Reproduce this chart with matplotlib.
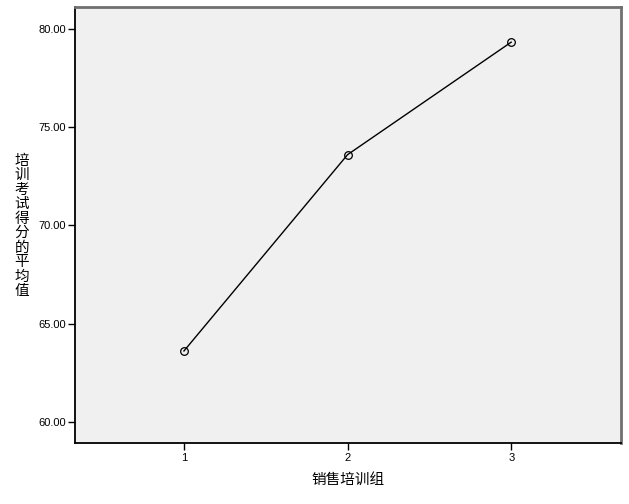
import matplotlib.pyplot as plt

plt.rcParams['font.family'] = ['Liberation Sans', 'DejaVu Sans']

# Means plot data
groups = [1, 2, 3]
means = [63.61, 73.59, 79.31]
yticks = [60, 65, 70, 75, 80]
ylabel = "培训考试得分的平均值"
xlabel = "销售培训组"

fig = plt.figure(figsize=(6.29, 5.04), dpi=100)
ax = fig.add_axes([0.120, 0.121, 0.867, 0.866])
ax.set_facecolor('#f0f0f0')

ax.plot(groups, means, color='black', linewidth=1.0, marker='o', markersize=5.5,
        markerfacecolor='none', markeredgecolor='black', markeredgewidth=0.9)

ax.set_xlim(0.337, 3.67)
ax.set_ylim(58.93, 81.12)
ax.set_xticks(groups)
ax.set_xticklabels([str(g) for g in groups])
ax.set_yticks(yticks)
ax.set_yticklabels(["%.2f" % v for v in yticks])
ax.tick_params(direction='out', length=5, width=1, labelsize=8, color='black', pad=2)

for s in ['left', 'bottom']:
    ax.spines[s].set_color('black')
    ax.spines[s].set_linewidth(1.3)
for s in ['top', 'right']:
    ax.spines[s].set_color('#707070')
    ax.spines[s].set_linewidth(2.0)

cjk = ['Noto Sans CJK SC', 'DejaVu Sans']
fig.text(22 / 629, 1 - 226 / 504, "\n".join(ylabel), family=cjk, fontsize=10.5,
         ha='center', va='center', linespacing=1.05)
fig.text(348 / 629, 1 - 480 / 504, xlabel, family=cjk, fontsize=10.5,
         ha='center', va='center')

fig.savefig('out.png', dpi=100)
